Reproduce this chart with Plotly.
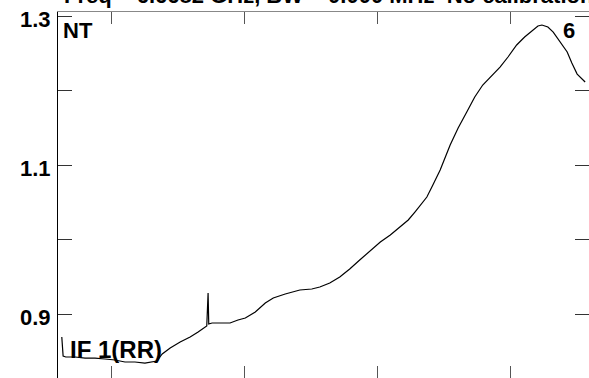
import plotly.graph_objects as go

# Spectrum data (channel, normalized intensity)
channel = [126, 128, 132, 146, 161, 176, 191, 206, 221, 236, 251, 262, 269, 277, 289,
           304, 319, 331, 340, 344, 346, 347, 352, 364, 379, 391, 402, 417, 432, 444,
           462, 484, 502, 514, 529, 544, 559, 574, 590, 605, 620, 635, 647, 657, 668,
           675, 684, 695, 710, 722, 735, 747, 759, 773, 785, 797, 810, 822, 835, 842,
           848, 857, 865, 875, 886, 893, 901, 913]
intensity = [0.8691, 0.8436, 0.8423, 0.8423, 0.8409, 0.8409, 0.8396, 0.8383, 0.8356, 0.8356,
             0.8342, 0.8356, 0.8369, 0.8463, 0.8544, 0.8624, 0.8691, 0.8758, 0.8812, 0.8839,
             0.9282, 0.8866, 0.8879, 0.8879, 0.8879, 0.8919, 0.8946, 0.9027, 0.9148, 0.9215,
             0.9268, 0.9322, 0.9336, 0.9362, 0.9416, 0.9497, 0.9604, 0.9725, 0.9846, 0.9966,
             1.0060, 1.0168, 1.0262, 1.0369, 1.0490, 1.0570, 1.0732, 1.0933, 1.1268, 1.1497,
             1.1711, 1.1913, 1.2074, 1.2208, 1.2315, 1.2450, 1.2611, 1.2718, 1.2812, 1.2866,
             1.2879, 1.2852, 1.2785, 1.2664, 1.2517, 1.2369, 1.2221, 1.2114]

y_tickvals = [0.9, 1.0, 1.1, 1.2, 1.3]
y_ticktext = ["0.9", "", "1.1", "", "1.3"]
x_tickvals = [200, 400, 600, 800]

title_text = "Freq = 6.6682 GHz, BW = 0.000 MHz  No calibration"
corner_left = "NT"
corner_right = "6"
band_label = "IF 1(RR)"

FONT = "Liberation Sans, Arial, Helvetica, sans-serif"

fig = go.Figure()
fig.add_trace(go.Scatter(x=channel, y=intensity, mode="lines",
                         line=dict(color="black", width=1.2), hoverinfo="skip"))

fig.update_layout(
    width=589, height=378,
    margin=dict(l=58, r=0, t=12, b=0),
    paper_bgcolor="white", plot_bgcolor="white",
    showlegend=False,
    font=dict(family=FONT, color="black"),
)
fig.update_xaxes(range=[120.3, 918.8], showgrid=False, zeroline=False,
                 tickvals=x_tickvals, showticklabels=False,
                 ticks="inside", ticklen=12, tickcolor="#555555", tickwidth=1,
                 showline=True, linecolor="#888888", linewidth=1, mirror="ticks")
fig.update_yaxes(range=[0.8141, 1.3054], showgrid=False, zeroline=False,
                 tickvals=y_tickvals, ticktext=y_ticktext,
                 ticks="inside", ticklen=14, tickcolor="#333333", tickwidth=1,
                 showline=True, linecolor="black", linewidth=1, mirror="ticks",
                 tickfont=dict(family=FONT, size=22, color="black", weight="bold"),
                 ticklabelstandoff=2, ticklabelshift=3)

fig.add_annotation(text=title_text, xref="paper", yref="paper",
                   x=0.0075, y=1.005, xanchor="left", yanchor="bottom",
                   showarrow=False,
                   font=dict(family=FONT, size=22, color="black", weight="bold"))
fig.add_annotation(text=corner_left, xref="paper", yref="paper",
                   x=0.005, y=0.989, xanchor="left", yanchor="top",
                   showarrow=False,
                   font=dict(family=FONT, size=22, color="black", weight="bold"))
fig.add_annotation(text=corner_right, xref="paper", yref="paper",
                   x=0.947, y=0.989, xanchor="left", yanchor="top",
                   showarrow=False,
                   font=dict(family=FONT, size=22, color="black", weight="bold"))
fig.add_annotation(text=band_label, xref="paper", yref="paper",
                   x=0.019, y=0.078, xanchor="left", yanchor="middle",
                   showarrow=False,
                   font=dict(family=FONT, size=24, color="black", weight="bold"))

fig.write_html("out.html", config={"displayModeBar": False},
               post_script="document.body.style.margin='0';document.body.style.overflow='hidden';")
